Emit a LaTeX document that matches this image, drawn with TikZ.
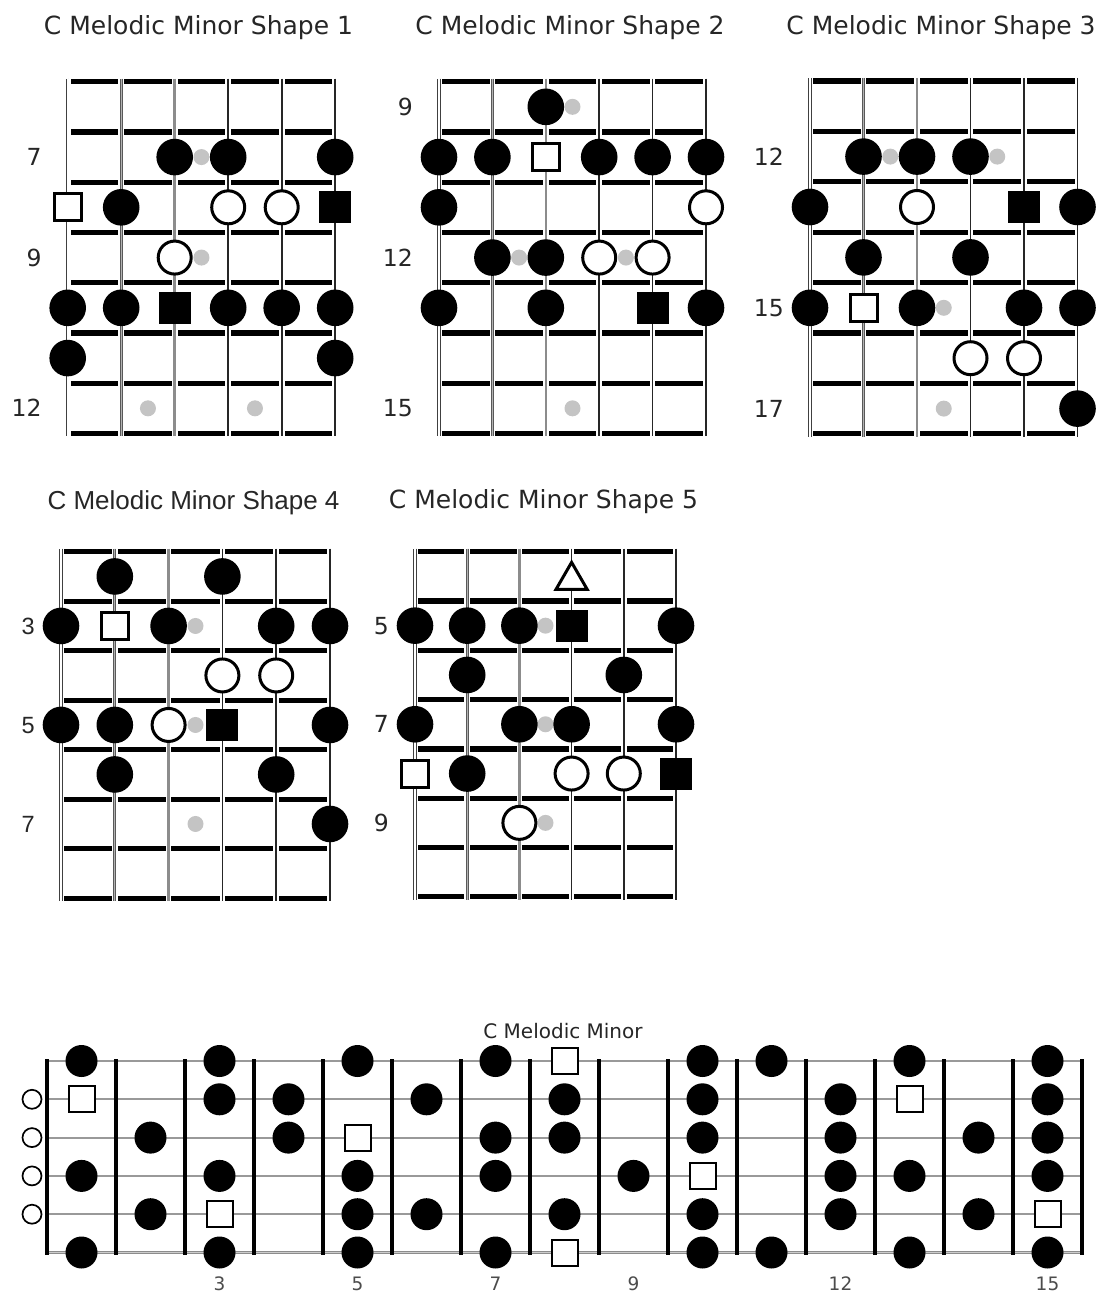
\documentclass[tikz,border=0pt]{standalone}
\usepackage{fontspec}
\setmainfont{DejaVu Sans}
\newfontfamily\arialf{Liberation Sans}
\usetikzlibrary{shapes.geometric}
\tikzset{
  fretl/.style={line width=5.2pt, black},
  sone/.style={draw=black!75, double=white, double distance=1.6pt, line width=0.9pt},
  stwo/.style={draw=black!65, double=black!30, double distance=1.2pt, line width=0.9pt},
  sthree/.style={draw=black!45, line width=2.6pt},
  sthin/.style={draw=black!85, line width=1.6pt},
  bdot/.style={circle, fill=black, minimum size=36.6pt, inner sep=0pt},
  odot/.style={circle, draw=black, line width=3pt, fill=white, minimum size=33pt, inner sep=0pt},
  osq/.style={rectangle, draw=black, line width=3pt, fill=white, minimum size=27pt, inner sep=0pt},
  bsq/.style={rectangle, fill=black, minimum size=32pt, inner sep=0pt},
  gdot/.style={circle, fill=black!23, minimum size=16pt, inner sep=0pt},
  otri/.style={regular polygon, regular polygon sides=3, draw=black, line width=3pt, fill=white, minimum size=36pt, inner sep=0pt},
  ttl/.style={font=\fontsize{25}{28}\selectfont, text=black!85, anchor=base, inner sep=0pt},
  ttlb/.style={font=\fontsize{20}{24}\selectfont, text=black!85, anchor=base, inner sep=0pt},
  numl/.style={font=\fontsize{23.5}{26}\selectfont, text=black!85, inner sep=0pt},
  bnum/.style={font=\fontsize{18.5}{22}\selectfont, text=black!70, anchor=base, inner sep=0pt},
  bstr/.style={draw=black!40, line width=1.8pt},
  bstrlow/.style={draw=black!45, double=black!20, double distance=1pt, line width=1.2pt},
  bfret/.style={draw=black, line width=4.2pt},
  fb/.style={circle, fill=black, minimum size=32pt, inner sep=0pt},
  fq/.style={rectangle, draw=black, line width=2pt, fill=white, minimum size=26pt, inner sep=0pt},
  opn/.style={circle, draw=black, line width=1.7pt, fill=white, minimum size=19pt, inner sep=0pt},
}
\newcommand\setboard[5]{\def\bname{#1}\def\bxo{#2}\def\bdx{#3}\def\byo{#4}\def\bdy{#5}}
\newcommand\drawboard{%
  \foreach \k in {0,...,7}{\draw[fretl] ({\bxo},{\byo+\k*\bdy}) -- ({\bxo+5*\bdx},{\byo+\k*\bdy});}
  \foreach \s/\st in {1/sone,2/stwo,3/sthree,4/sthin,5/sthin,6/sthin}{%
    \draw[white, line width=5.6pt] ({\bxo+(\s-1)*\bdx},{\byo-3}) -- ({\bxo+(\s-1)*\bdx},{\byo+7*\bdy+3});
    \draw[\st] ({\bxo+(\s-1)*\bdx},{\byo-3}) -- ({\bxo+(\s-1)*\bdx},{\byo+7*\bdy+3});
  }%
}
\newcommand\mk[3]{\node[#1] (\bname-#2-#3) at ({\bxo+(#2-1)*\bdx},{\byo+(#3-0.5)*\bdy}) {};}
\newcommand\gd[2]{\node[gdot] (\bname-g#1-#2) at ({\bxo+(#1-0.5)*\bdx},{\byo+(#2-0.5)*\bdy}) {};}
\newcommand\lbl[3][]{\node[numl, anchor=base east, #1] (\bname-l#3) at ({\bxo-26},{\byo+(#3-0.5)*\bdy+8.5}) {#2};}
\newcommand\fm[3]{\node[#1] (F-#2-#3) at ({47+69*(#2-0.5)},{1061+38.3*(#3-1)}) {};}
\begin{document}
\begin{tikzpicture}[x=1pt, y=-1pt]
\fill[white] (0,0) rectangle (1103,1292);
\useasboundingbox (0,0) rectangle (1103,1292);

% ---------------- Shape 1
\node[ttl] (t1) at (198.5,35) {C Melodic Minor Shape 1};
\setboard{A}{67.7}{53.5}{81.7}{50.25}
\drawboard
\gd{3}{2}\gd{3}{4}\gd{2}{7}\gd{4}{7}
\mk{bdot}{3}{2}\mk{bdot}{4}{2}\mk{bdot}{6}{2}
\mk{osq}{1}{3}\mk{bdot}{2}{3}\mk{odot}{4}{3}\mk{odot}{5}{3}\mk{bsq}{6}{3}
\mk{odot}{3}{4}
\mk{bdot}{1}{5}\mk{bdot}{2}{5}\mk{bsq}{3}{5}\mk{bdot}{4}{5}\mk{bdot}{5}{5}\mk{bdot}{6}{5}
\mk{bdot}{1}{6}\mk{bdot}{6}{6}
\lbl{7}{2}\lbl{9}{4}\lbl{12}{7}

% ---------------- Shape 2
\node[ttl] (t2) at (570,35) {C Melodic Minor Shape 2};
\setboard{B}{439}{53.4}{81.7}{50.25}
\drawboard
\gd{3}{1}\gd{2}{4}\gd{4}{4}\gd{3}{7}
\mk{bdot}{3}{1}
\mk{bdot}{1}{2}\mk{bdot}{2}{2}\mk{osq}{3}{2}\mk{bdot}{4}{2}\mk{bdot}{5}{2}\mk{bdot}{6}{2}
\mk{bdot}{1}{3}\mk{odot}{6}{3}
\mk{bdot}{2}{4}\mk{bdot}{3}{4}\mk{odot}{4}{4}\mk{odot}{5}{4}
\mk{bdot}{1}{5}\mk{bdot}{3}{5}\mk{bsq}{5}{5}\mk{bdot}{6}{5}
\lbl{9}{1}\lbl{12}{4}\lbl{15}{7}

% ---------------- Shape 3
\node[ttl] (t3) at (941,35) {C Melodic Minor Shape 3};
\setboard{C}{810}{53.5}{81}{50.4}
\drawboard
\gd{2}{2}\gd{4}{2}\gd{3}{5}\gd{3}{7}
\mk{bdot}{2}{2}\mk{bdot}{3}{2}\mk{bdot}{4}{2}
\mk{bdot}{1}{3}\mk{odot}{3}{3}\mk{bsq}{5}{3}\mk{bdot}{6}{3}
\mk{bdot}{2}{4}\mk{bdot}{4}{4}
\mk{bdot}{1}{5}\mk{osq}{2}{5}\mk{bdot}{3}{5}\mk{bdot}{5}{5}\mk{bdot}{6}{5}
\mk{odot}{4}{6}\mk{odot}{5}{6}
\mk{bdot}{6}{7}
\lbl{12}{2}\lbl{15}{5}\lbl{17}{7}

% ---------------- Shape 4
\node[ttl, font=\arialf\fontsize{26}{29}\selectfont] (t4) at (193.5,509) {C Melodic Minor Shape 4};
\setboard{D}{61}{53.8}{551.7}{49.5}
\drawboard
\gd{3}{2}\gd{3}{4}\gd{3}{6}
\mk{bdot}{2}{1}\mk{bdot}{4}{1}
\mk{bdot}{1}{2}\mk{osq}{2}{2}\mk{bdot}{3}{2}\mk{bdot}{5}{2}\mk{bdot}{6}{2}
\mk{odot}{4}{3}\mk{odot}{5}{3}
\mk{bdot}{1}{4}\mk{bdot}{2}{4}\mk{odot}{3}{4}\mk{bsq}{4}{4}\mk{bdot}{6}{4}
\mk{bdot}{2}{5}\mk{bdot}{5}{5}
\mk{bdot}{6}{6}
\lbl[font=\arialf\fontsize{23.5}{26}\selectfont]{3}{2}
\lbl[font=\arialf\fontsize{23.5}{26}\selectfont]{5}{4}
\lbl[font=\arialf\fontsize{23.5}{26}\selectfont]{7}{6}

% ---------------- Shape 5
\node[ttl] (t5) at (543.5,508) {C Melodic Minor Shape 5};
\setboard{E}{415}{52.2}{551.7}{49.3}
\drawboard
\gd{3}{2}\gd{3}{4}\gd{3}{6}
\node[otri] (E-tri) at ({\bxo+3*\bdx},{\byo+0.5*\bdy+4}) {};
\mk{bdot}{1}{2}\mk{bdot}{2}{2}\mk{bdot}{3}{2}\mk{bsq}{4}{2}\mk{bdot}{6}{2}
\mk{bdot}{2}{3}\mk{bdot}{5}{3}
\mk{bdot}{1}{4}\mk{bdot}{3}{4}\mk{bdot}{4}{4}\mk{bdot}{6}{4}
\mk{osq}{1}{5}\mk{bdot}{2}{5}\mk{odot}{4}{5}\mk{odot}{5}{5}\mk{bsq}{6}{5}
\mk{odot}{3}{6}
\lbl{5}{2}\lbl{7}{4}\lbl{9}{6}

% ---------------- Full neck
\node[ttlb] (t6) at (563,1038) {C Melodic Minor};
\foreach \j in {1,...,5}{\draw[bstr] (45,{1061+38.3*(\j-1)}) -- (1083,{1061+38.3*(\j-1)});}
\draw[bstrlow] (45,1252.5) -- (1083,1252.5);
\foreach \k in {0,...,15}{\draw[bfret] ({47+69*\k},1059) -- ({47+69*\k},1254.5);}
\foreach \j in {2,...,5}{\node[opn] (F-o\j) at (32,{1061+38.3*(\j-1)}) {};}
\fm{fb}{1}{1}\fm{fq}{1}{2}\fm{fb}{1}{4}\fm{fb}{1}{6}
\fm{fb}{2}{3}\fm{fb}{2}{5}
\fm{fb}{3}{1}\fm{fb}{3}{2}\fm{fb}{3}{4}\fm{fq}{3}{5}\fm{fb}{3}{6}
\fm{fb}{4}{2}\fm{fb}{4}{3}
\fm{fb}{5}{1}\fm{fq}{5}{3}\fm{fb}{5}{4}\fm{fb}{5}{5}\fm{fb}{5}{6}
\fm{fb}{6}{2}\fm{fb}{6}{5}
\fm{fb}{7}{1}\fm{fb}{7}{3}\fm{fb}{7}{4}\fm{fb}{7}{6}
\fm{fq}{8}{1}\fm{fb}{8}{2}\fm{fb}{8}{3}\fm{fb}{8}{5}\fm{fq}{8}{6}
\fm{fb}{9}{4}
\fm{fb}{10}{1}\fm{fb}{10}{2}\fm{fb}{10}{3}\fm{fq}{10}{4}\fm{fb}{10}{5}\fm{fb}{10}{6}
\fm{fb}{11}{1}\fm{fb}{11}{6}
\fm{fb}{12}{2}\fm{fb}{12}{3}\fm{fb}{12}{4}\fm{fb}{12}{5}
\fm{fb}{13}{1}\fm{fq}{13}{2}\fm{fb}{13}{4}\fm{fb}{13}{6}
\fm{fb}{14}{3}\fm{fb}{14}{5}
\fm{fb}{15}{1}\fm{fb}{15}{2}\fm{fb}{15}{3}\fm{fb}{15}{4}\fm{fq}{15}{5}\fm{fb}{15}{6}
\foreach \n in {3,5,7,9,12,15}{\node[bnum] (F-n\n) at ({47+69*(\n-0.5)},1290) {\n};}
\end{tikzpicture}
\end{document}
